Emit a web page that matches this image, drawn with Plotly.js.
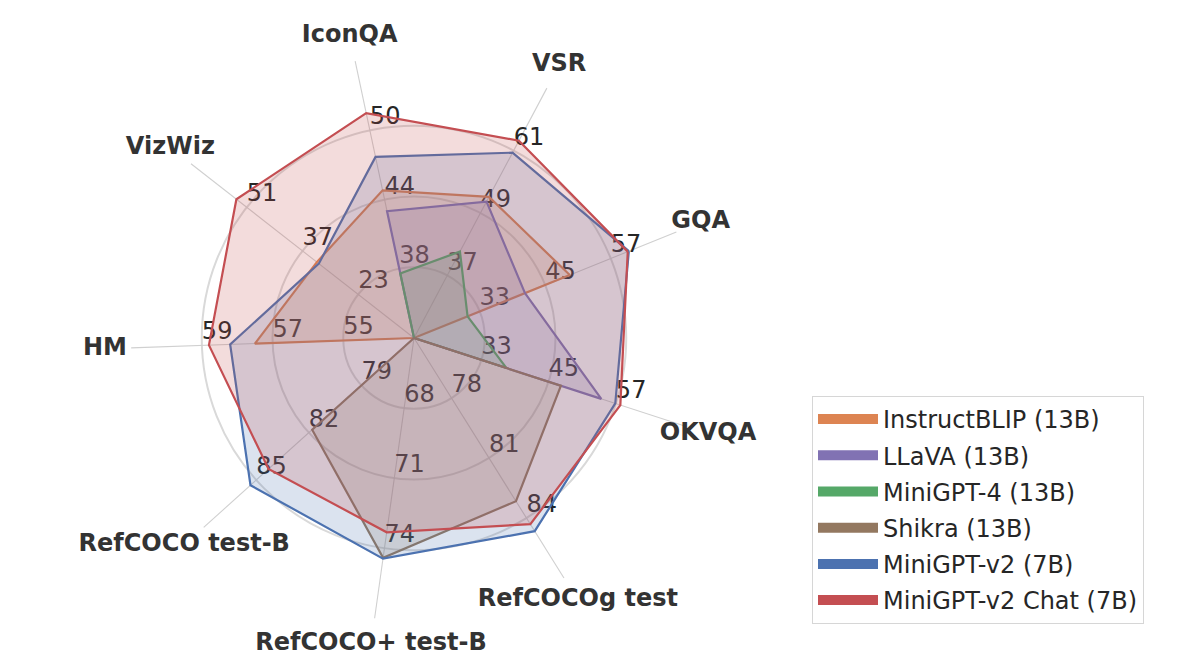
<!DOCTYPE html>
<html>
<head>
<meta charset="utf-8">
<script src="https://cdn.plot.ly/plotly-3.0.1.min.js"></script>
<style>html,body{margin:0;padding:0;background:#fff;}#chart{width:1193px;height:670px;}</style>
</head>
<body>
<div id="chart"></div>
<script>
// ---- data ----
var axesNames = ['GQA', 'VSR', 'IconQA', 'VizWiz', 'HM', 'RefCOCO test-B', 'RefCOCO+ test-B', 'RefCOCOg test', 'OKVQA'];
var tickGQA = [33, 45, 57];
var tickVSR = [37, 49, 61];
var tickIconQA = [38, 44, 50];
var tickVizWiz = [23, 37, 51];
var tickHM = [55, 57, 59];
var tickRefCOCO = [79, 82, 85];
var tickRefCOCOp = [68, 71, 74];
var tickRefCOCOg = [78, 81, 84];
var tickOKVQA = [33, 45, 57];
var axisTicks = [tickGQA, tickVSR, tickIconQA, tickVizWiz, tickHM, tickRefCOCO, tickRefCOCOp, tickRefCOCOg, tickOKVQA];

var modelNames = ['InstructBLIP (13B)', 'LLaVA (13B)', 'MiniGPT-4 (13B)', 'Shikra (13B)', 'MiniGPT-v2 (7B)', 'MiniGPT-v2 Chat (7B)'];
var instructBLIP = [49.5, 52.1, 44.8, 33.4, 57.5, null, null, null, null];
var llava        = [41.3, 51.2, 43.0, null, null, null, null, null, 54.4];
var minigpt4     = [30.8, 41.6, 37.6, null, null, null, null, null, 37.5];
var shikra       = [null, null, null, null, null, 81.81, 74.41, 83.16, 47.2];
var minigptv2    = [60.3, 60.6, 47.7, 32.9, 58.2, 85.33, 74.45, 84.66, 56.9];
var minigptv2chat= [60.1, 62.9, 51.5, 53.6, 58.8, 84.30, 73.32, 84.31, 57.8];
var modelValues = [instructBLIP, llava, minigpt4, shikra, minigptv2, minigptv2chat];
var modelColors = ['#DD8452', '#8172B3', '#55A868', '#937860', '#4C72B0', '#C44E52'];

// ---- helpers ----
function hexToRgba(h, a) {
  var r = parseInt(h.slice(1, 3), 16), g = parseInt(h.slice(3, 5), 16), b = parseInt(h.slice(5, 7), 16);
  return 'rgba(' + r + ',' + g + ',' + b + ',' + a + ')';
}
// each axis: radius 0 at (t1 - step), ticks at radius 1,2,3, axis end at 4
var AXIS_END = 4;
var LABEL_R = 4.37;
function scaleValue(axisIdx, v) {
  if (v === null || v === undefined) return 0;
  var t = axisTicks[axisIdx];
  var step = t[1] - t[0];
  return (v - (t[0] - step)) / step;
}

var FONT = 'DejaVu Sans, Liberation Sans, sans-serif';
var TXT = '#262626';
var traces = [];

// axis spokes
axesNames.forEach(function (name) {
  traces.push({
    type: 'scatterpolar', mode: 'lines', theta: [name, name], r: [0, AXIS_END],
    line: {color: '#d0d0d0', width: 1.1}, showlegend: false, hoverinfo: 'skip'
  });
});

// per-axis tick labels (drawn before the fills so the fills lie over them)
var lblTheta = [], lblR = [], lblText = [];
axesNames.forEach(function (name, i) {
  axisTicks[i].forEach(function (tv) {
    lblTheta.push(name);
    lblR.push(scaleValue(i, tv));
    lblText.push(String(tv));
  });
});
traces.push({
  type: 'scatterpolar', mode: 'text', theta: lblTheta, r: lblR, text: lblText,
  textposition: 'top right', textfont: {family: FONT, size: 24, color: TXT},
  showlegend: false, hoverinfo: 'skip', cliponaxis: false
});

// category labels, centred just outside the axis ends
traces.push({
  type: 'scatterpolar', mode: 'text', theta: axesNames.slice(),
  r: axesNames.map(function () { return LABEL_R; }), text: axesNames.slice(),
  textposition: 'middle center',
  textfont: {family: FONT, size: 24, color: '#333333', weight: 'bold'},
  showlegend: false, hoverinfo: 'skip', cliponaxis: false
});

// data polygons
modelNames.forEach(function (m, k) {
  var rr = modelValues[k].map(function (v, i) { return scaleValue(i, v); });
  var th = axesNames.slice();
  rr.push(rr[0]); th.push(th[0]);
  traces.push({
    type: 'scatterpolar', mode: 'lines', r: rr, theta: th, name: m,
    fill: 'toself', fillcolor: hexToRgba(modelColors[k], 0.2),
    line: {color: modelColors[k], width: 2.2},
    showlegend: false, legendgroup: m
  });
});
// legend swatches (opaque)
modelNames.forEach(function (m, k) {
  traces.push({
    type: 'scatterpolar', mode: 'lines', r: [0, 0], theta: axesNames.slice(0, 2), name: m,
    line: {color: modelColors[k], width: 17},
    showlegend: true, legendgroup: m, hoverinfo: 'skip'
  });
});

// polar geometry: centre (414, 338) px, 70.75 px per radial unit
var RMAX = 4.65;
var CX = 414, CY = 338, PXU = 70.75;
var half = RMAX * PXU;
var layout = {
  width: 1193, height: 670,
  margin: {l: 0, r: 0, t: 0, b: 0},
  paper_bgcolor: '#ffffff',
  font: {family: FONT, color: TXT},
  showlegend: true,
  polar: {
    domain: {x: [(CX - half) / 1193, (CX + half) / 1193], y: [(670 - CY - half) / 670, (670 - CY + half) / 670]},
    bgcolor: 'rgba(0,0,0,0)',
    radialaxis: {
      range: [0, RMAX], tickvals: [1, 2, 3], showticklabels: false, ticks: '',
      showline: false, gridcolor: '#d9d9d9', gridwidth: 2
    },
    angularaxis: {
      type: 'category', categoryarray: axesNames, rotation: 22, direction: 'counterclockwise',
      showline: false, ticks: '', showticklabels: false, showgrid: false
    }
  },
  legend: {
    x: 812 / 1193, y: (670 - 396) / 670, xanchor: 'left', yanchor: 'top',
    bgcolor: '#ffffff', bordercolor: '#d6d6d6', borderwidth: 1,
    itemwidth: 60, tracegroupgap: 2,
    font: {family: FONT, size: 24, color: TXT}
  }
};

Plotly.newPlot('chart', traces, layout, {staticPlot: true});
</script>
</body>
</html>
